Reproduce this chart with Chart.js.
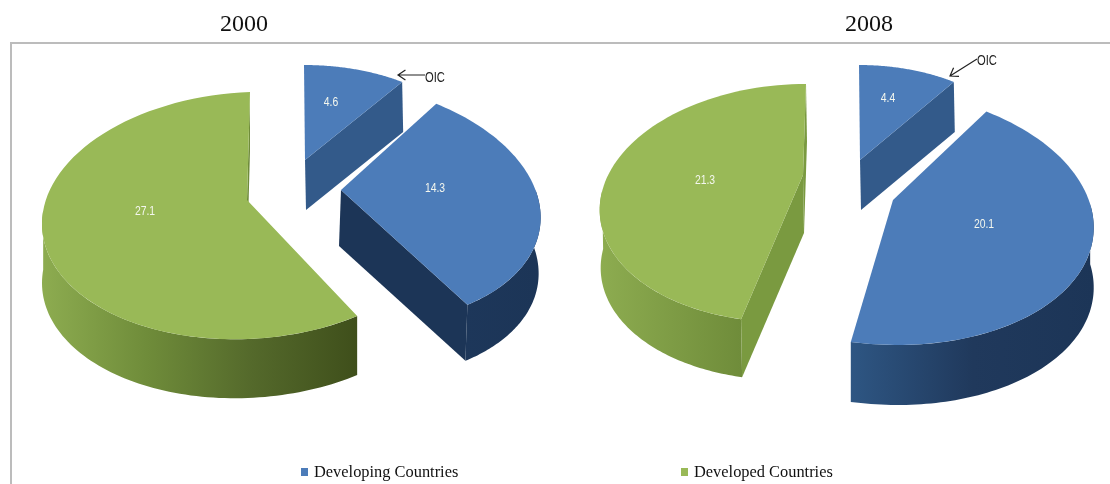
<!DOCTYPE html>
<html>
<head>
<meta charset="utf-8">
<title>2000 / 2008</title>
<script src="https://cdn.jsdelivr.net/npm/chart.js@4/dist/chart.umd.min.js"></script>
<style>
  html, body { margin: 0; padding: 0; background: #fff; overflow: hidden; }
  #stage { position: relative; width: 1110px; height: 484px; }
  #frame { position: absolute; left: 10px; top: 42px; width: 1100px; height: 442px; box-sizing: border-box;
           border-left: 2px solid #bcbcbc; border-top: 2px solid #bcbcbc; }
  canvas { position: absolute; left: 0; top: 0; }
</style>
</head>
<body>
<div id="stage">
  <div id="frame"></div>
  <canvas id="chart2000" width="1110" height="484"></canvas>
  <canvas id="chart2008" width="1110" height="484"></canvas>
</div>
<script>
// data
const sliceNames = ['OIC', 'Developing Countries', 'Developed Countries'];
const legendNames = ['Developing Countries', 'Developed Countries'];
const years = ['2000', '2008'];
const values2000 = [4.6, 14.3, 27.1];
const values2008 = [4.4, 20.1, 21.3];

const BLUE = '#4c7cb9';
const GREEN = '#99b957';
const SERIF = '"Liberation Serif", serif';
const SANS = '"Liberation Sans", sans-serif';

// how each slice is laid in the fake 3d view (ellipse, tip of the wedge, walls)
const shapes2000 = [
  { cx: 304, cy: 154, a: 167, b: 0, c: 0, ry: 89, apex: [305, 160], depth: [1, 50], top: BLUE,
    endWall: '#335a8a', side: [300, 410, ['#335a8a', '#335a8a']], label: [331, 102] },
  { cx: 340, cy: 202, a: 199, b: -25.6, c: 0, ry: 121.4, apex: [341, 190], depth: [-2, 56], top: BLUE,
    endWall: '#1c3557', side: [340, 540, ['#1f3a5f', '#1c3557']], label: [435, 188] },
  { cx: 248.6, cy: 215.5, a: 206.6, b: 1.4, c: -7.6, ry: 123.5, apex: [247, 200], depth: [0, 59], top: GREEN,
    endWall: '#6f8c3a', side: [42, 357, ['#8dac50', '#6f8c3a', '#54692b', '#3f4f1b']], label: [145, 211] }
];
const shapes2008 = [
  { cx: 859, cy: 161, a: 167, b: 0, c: 0, ry: 96, apex: [860, 160], depth: [1, 50], top: BLUE,
    endWall: '#335a8a', side: [860, 955, ['#335a8a', '#335a8a']], label: [888, 98] },
  { cx: 880, cy: 217, a: 213, b: -17.6, c: 0, ry: 128, apex: [893, 200], depth: [0, 60], top: BLUE,
    side: [850, 1095, ['#2e5683', '#20395c', '#1c3557']], label: [984, 224] },
  { cx: 794.6, cy: 203, a: 194.6, b: 11.4, c: 0, ry: 119, apex: [803, 175], depth: [1, 58], top: GREEN,
    startWall: '#7a9a40', endWall: '#7a9a40', side: [600, 742, ['#8dac50', '#6f8c3a']], label: [705, 180] }
];

function ringPoints(s, from, to) {
  const pts = [];
  const steps = 80;
  for (let i = 0; i <= steps; i++) {
    const t = from + (to - from) * i / steps;
    pts.push([
      s.cx + s.a * Math.cos(t) - s.b * Math.sin(t),
      s.cy + s.ry * Math.sin(t) + s.c * Math.cos(t)
    ]);
  }
  return pts;
}

function fillPoly(ctx, pts, fill) {
  ctx.beginPath();
  pts.forEach((p, i) => i ? ctx.lineTo(p[0], p[1]) : ctx.moveTo(p[0], p[1]));
  ctx.closePath();
  ctx.fillStyle = fill;
  ctx.fill();
}

// text squeezed sideways, the original labels are in a narrow face
function narrowText(ctx, text, x, y, squeeze) {
  ctx.save();
  ctx.translate(x, y);
  ctx.scale(squeeze, 1);
  ctx.fillText(text, 0, 0);
  ctx.restore();
}

function drawSlice(ctx, arc, s) {
  const ring = ringPoints(s, arc.startAngle, arc.endAngle);
  const down = p => [p[0] + s.depth[0], p[1] + s.depth[1]];

  // outer wall, only the part that faces the viewer
  const wallFrom = Math.max(arc.startAngle, -0.1);
  const wallTo = Math.min(arc.endAngle, Math.PI + 0.1);
  if (wallTo > wallFrom) {
    const wall = ringPoints(s, wallFrom, wallTo);
    const grad = ctx.createLinearGradient(s.side[0], 0, s.side[1], 0);
    s.side[2].forEach((col, i, all) => grad.addColorStop(i / (all.length - 1), col));
    fillPoly(ctx, wall.concat(wall.map(down).reverse()), grad);
  }

  if (s.startWall) {
    const p = ring[0];
    fillPoly(ctx, [s.apex, p, down(p), down(s.apex)], s.startWall);
  }
  if (s.endWall) {
    const p = ring[ring.length - 1];
    fillPoly(ctx, [s.apex, p, down(p), down(s.apex)], s.endWall);
  }
  fillPoly(ctx, [s.apex].concat(ring), s.top);
}

function drawArrow(ctx, x0, y0, x1, y1) {
  const ang = Math.atan2(y1 - y0, x1 - x0);
  const head = 9;
  ctx.strokeStyle = '#222';
  ctx.lineWidth = 1.2;
  ctx.beginPath();
  ctx.moveTo(x0, y0);
  ctx.lineTo(x1, y1);
  ctx.moveTo(x1 - head * Math.cos(ang - 0.6), y1 - head * Math.sin(ang - 0.6));
  ctx.lineTo(x1, y1);
  ctx.lineTo(x1 - head * Math.cos(ang + 0.6), y1 - head * Math.sin(ang + 0.6));
  ctx.stroke();
}

const pie3d = {
  id: 'pie3d',
  beforeDatasetsDraw() { return false; },
  afterDraw(chart, args, opts) {
    const ctx = chart.ctx;
    const arcs = chart.getDatasetMeta(0).data;
    const values = chart.data.datasets[0].data;
    ctx.save();
    arcs.forEach((arc, i) => drawSlice(ctx, arc, opts.shapes[i]));

    ctx.fillStyle = '#f4f7ee';
    ctx.font = '13px ' + SANS;
    ctx.textAlign = 'center';
    ctx.textBaseline = 'middle';
    arcs.forEach((arc, i) => narrowText(ctx, values[i].toFixed(1), opts.shapes[i].label[0], opts.shapes[i].label[1], 0.8));

    // year above the pie
    ctx.fillStyle = '#111';
    ctx.font = '24px ' + SERIF;
    ctx.fillText(opts.title, opts.titleX, 25);

    // OIC pointer
    const arrow = opts.arrow;
    drawArrow(ctx, arrow[0], arrow[1], arrow[2], arrow[3]);
    ctx.fillStyle = '#222';
    ctx.font = '14px ' + SANS;
    ctx.textAlign = 'left';
    narrowText(ctx, sliceNames[0], opts.oicAt[0], opts.oicAt[1], 0.8);

    // legend entry
    ctx.fillStyle = opts.legendColor;
    ctx.fillRect(opts.legendX, 468, 7, 8);
    ctx.fillStyle = '#111';
    ctx.font = '16.4px ' + SERIF;
    ctx.fillText(opts.legendText, opts.legendX + 13, 473);
    ctx.restore();
  }
};

function makePie(id, values, options) {
  return new Chart(document.getElementById(id), {
    type: 'pie',
    data: {
      labels: sliceNames,
      datasets: [{ data: values, backgroundColor: options.shapes.map(s => s.top), borderWidth: 0 }]
    },
    options: {
      responsive: false,
      animation: false,
      events: [],
      plugins: { legend: { display: false }, tooltip: { enabled: false }, pie3d: options }
    },
    plugins: [pie3d]
  });
}

makePie('chart2000', values2000, {
  shapes: shapes2000, title: years[0], titleX: 244, arrow: [425, 75, 398, 75], oicAt: [425, 78],
  legendColor: BLUE, legendX: 301, legendText: legendNames[0]
});
makePie('chart2008', values2008, {
  shapes: shapes2008, title: years[1], titleX: 869, arrow: [977, 59, 950, 76], oicAt: [977, 61],
  legendColor: GREEN, legendX: 681, legendText: legendNames[1]
});
</script>
</body>
</html>
